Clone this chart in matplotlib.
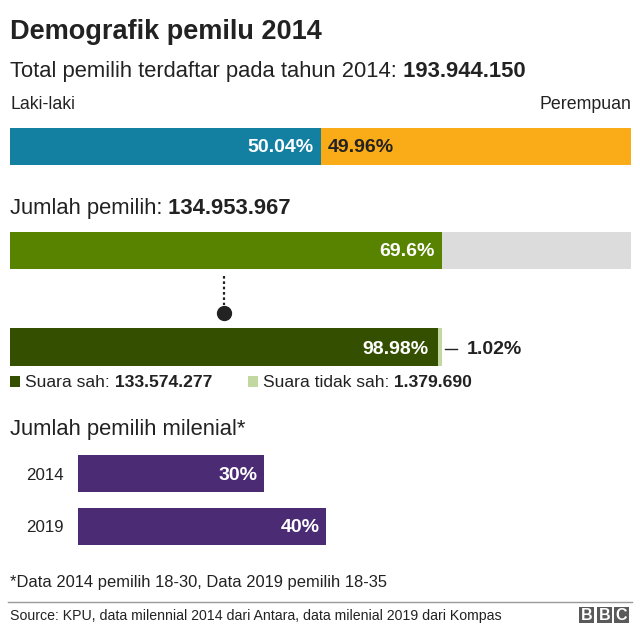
import matplotlib
matplotlib.use("Agg")
import matplotlib.pyplot as plt
from matplotlib.patches import Rectangle

plt.rcParams["font.family"] = ["Liberation Sans", "DejaVu Sans"]

# data
title = "Demografik pemilu 2014"
total_voters = "193.944.150"
gender_labels = ["Laki-laki", "Perempuan"]
gender_share = [50.04, 49.96]
turnout_count = "134.953.967"
turnout_share = [69.6, 30.4]
valid_labels = ["Suara sah:", "Suara tidak sah:"]
valid_counts = ["133.574.277", "1.379.690"]
valid_share = [98.98, 1.02]
milenial_years = ["2014", "2019"]
milenial_share = [30, 40]

# colours
dark = "#222222"
c_blue, c_orange = "#1380A1", "#FAAB18"
c_green, c_grey = "#588300", "#DCDCDC"
c_dkgreen, c_ltgreen = "#354F00", "#C3D8A0"
c_purple = "#4B2C74"

W, H = 640, 629
fig = plt.figure(figsize=(W / 100, H / 100), dpi=100)
ax = fig.add_axes([0, 0, 1, 1])
ax.set_xlim(0, W)
ax.set_ylim(H, 0)
ax.axis("off")

X0, FULL = 10, 621          # bar left edge and width of 100%
px = FULL / 100.0
PCT = 14                    # size of the % labels


def label_pair(x, y, normal, bold, size, color=dark):
    t = ax.text(x, y, normal, fontsize=size, color=color, va="baseline")
    ax.annotate(" " + bold, xy=(1, 0), xycoords=t, fontsize=size,
                fontweight="bold", color=dark, va="bottom", ha="left")
    return t


# title + subtitle
ax.text(X0, 39, title, fontsize=19.5, fontweight="bold", color=dark, va="baseline")
label_pair(X0, 77, "Total pemilih terdaftar pada tahun 2014:", total_voters, 15.8)

# gender bar
ax.text(X0, 109, gender_labels[0], fontsize=12.8, color=dark, va="baseline")
ax.text(X0 + FULL, 109, gender_labels[1], fontsize=12.8, color=dark, va="baseline", ha="right")
left = X0
for share, col in zip(gender_share, [c_blue, c_orange]):
    ax.barh(146.5, share * px, left=left, height=37, color=col, linewidth=0)
    left += share * px
split = X0 + gender_share[0] * px
ax.text(split - 7, 148, f"{gender_share[0]:.2f}%", fontsize=PCT, fontweight="bold",
        color="white", ha="right", va="center")
ax.text(split + 7, 148, f"{gender_share[1]:.2f}%", fontsize=PCT, fontweight="bold",
        color=dark, ha="left", va="center")

# turnout bar
label_pair(X0, 214, "Jumlah pemilih:", turnout_count, 15.8)
left = X0
for share, col in zip(turnout_share, [c_green, c_grey]):
    ax.barh(250.5, share * px, left=left, height=37, color=col, linewidth=0)
    left += share * px
turn_end = X0 + turnout_share[0] * px
ax.text(turn_end - 8, 252, f"{turnout_share[0]}%", fontsize=PCT, fontweight="bold",
        color="white", ha="right", va="center")

# connector
ax.plot([224, 224], [276, 305], color=dark, lw=1.6, ls=(0, (1.2, 1.2)))
ax.plot(224, 313, "o", color=dark, ms=10)

# valid / invalid bar
scale = turnout_share[0] * px / 100.0
left = X0
for share, col in zip(valid_share, [c_dkgreen, c_ltgreen]):
    ax.barh(347, share * scale, left=left, height=38, color=col, linewidth=0)
    left += share * scale
valid_end = X0 + valid_share[0] * scale
ax.text(valid_end - 9, 349, f"{valid_share[0]:.2f}%", fontsize=PCT, fontweight="bold",
        color="white", ha="right", va="center")
ax.plot([445, 457], [349, 349], color=dark, lw=1)
ax.text(467, 350, f"{valid_share[1]:.2f}%", fontsize=PCT, fontweight="bold",
        color=dark, ha="left", va="center")

# legend
for lx, col, lab, cnt in zip([10, 248], [c_dkgreen, c_ltgreen], valid_labels, valid_counts):
    ax.add_patch(Rectangle((lx, 376), 10, 11, color=col, lw=0))
    label_pair(lx + 15, 387, lab, cnt, 12.6)

# milenial bars
ax.text(X0, 435, "Jumlah pemilih milenial*", fontsize=15.8, color=dark, va="baseline")
MX0 = 78
for i, (yr, share) in enumerate(zip(milenial_years, milenial_share)):
    yc = 473.5 + i * 53
    ax.text(26, yc + 6, yr, fontsize=12.2, color=dark, va="baseline")
    ax.barh(yc, share * px, left=MX0, height=37, color=c_purple, linewidth=0)
    ax.text(MX0 + share * px - 7, yc + 1.5, f"{share}%", fontsize=PCT, fontweight="bold",
            color="white", ha="right", va="center")

# footnote + source
ax.text(X0, 587, "*Data 2014 pemilih 18-30, Data 2019 pemilih 18-35", fontsize=11.9,
        color=dark, va="baseline")
ax.plot([8, 632], [602, 602], color="#999999", lw=1)
ax.text(X0, 620, "Source: KPU, data milennial 2014 dari Antara, data milenial 2019 dari Kompas",
        fontsize=10.2, color=dark, va="baseline")
for bx, letter in zip([579, 597, 614], "BBC"):
    ax.add_patch(Rectangle((bx, 607), 15, 16, color="#5A5A5A", lw=0))
    ax.text(bx + 7.5, 615.5, letter, fontsize=11.5, fontweight="bold", color="white",
            ha="center", va="center")

fig.savefig("out.png", dpi=100)
